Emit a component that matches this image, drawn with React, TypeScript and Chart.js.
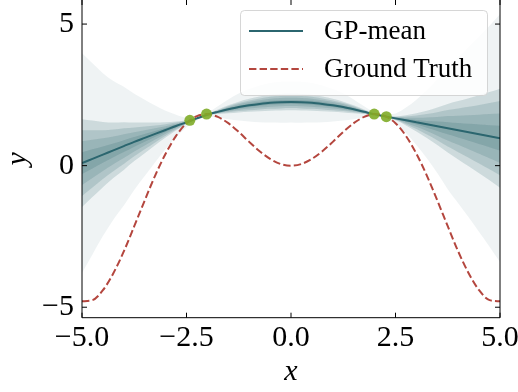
import React, { useEffect, useRef } from 'react';
import { Chart, registerables } from 'chart.js';

Chart.register(...registerables);

const xGrid = [-5, -4.75, -4.5, -4.25, -4, -3.75, -3.5, -3.25, -3, -2.75, -2.5, -2.25, -2, -1.75, -1.5, -1.25, -1, -0.75, -0.5, -0.25, 0, 0.25, 0.5, 0.75, 1, 1.25, 1.5, 1.75, 2, 2.25, 2.5, 2.75, 3, 3.25, 3.5, 3.75, 4, 4.25, 4.5, 4.75, 5];
const gpMean = [0.09, 0.24, 0.39, 0.54, 0.69, 0.84, 0.98, 1.12, 1.26, 1.4, 1.53, 1.67, 1.8, 1.9, 1.99, 2.07, 2.13, 2.18, 2.22, 2.24, 2.25, 2.24, 2.22, 2.18, 2.13, 2.07, 1.99, 1.9, 1.81, 1.74, 1.67, 1.6, 1.53, 1.46, 1.39, 1.32, 1.25, 1.18, 1.11, 1.04, 0.97];
const gpStd = [1.55, 1.35, 1.15, 0.98, 0.84, 0.68, 0.54, 0.4, 0.27, 0.16, 0.07, 0.03, 0.03, 0.08, 0.14, 0.19, 0.23, 0.26, 0.28, 0.29, 0.29, 0.29, 0.28, 0.26, 0.23, 0.19, 0.14, 0.08, 0.03, 0.03, 0.07, 0.18, 0.32, 0.48, 0.66, 0.86, 1.03, 1.2, 1.38, 1.56, 1.75];
const truthY = [-4.79, -4.75, -4.4, -3.8, -3.03, -2.14, -1.23, -0.35, 0.42, 1.05, 1.5, 1.75, 1.82, 1.72, 1.5, 1.19, 0.84, 0.51, 0.24, 0.06, 0, 0.06, 0.24, 0.51, 0.84, 1.19, 1.5, 1.72, 1.82, 1.75, 1.5, 1.05, 0.42, -0.35, -1.23, -2.14, -3.03, -3.8, -4.4, -4.75, -4.79];
const trainX = [-2.42, -2.02, 1.99, 2.28];
const trainY = [1.6, 1.82, 1.82, 1.73];
const bandLevels = [2.5, 1, 0.75, 0.5, 0.25];
const xTicks = [-5, -2.5, 0, 2.5, 5];
const xTickLabels = ['\u22125.0', '\u22122.5', '0.0', '2.5', '5.0'];
const yTicks = [-5, 0, 5];
const yTickLabels = ['\u22125', '0', '5'];
const legendLabels = ['GP-mean', 'Ground Truth'];
const xRange = [-5, 5];
const yRange = [-5.37, 5.85];

const SERIF = "'Liberation Serif', 'Times New Roman', serif";
const MEAN_COLOR = '#2b666f';
const TRUTH_COLOR = '#b4463e';
const DASH = [7.4, 3.2];

const decorPlugin = {
  id: 'decor',
  afterDraw(chart: any) {
    const { ctx, chartArea: ca, scales } = chart;
    const xs = scales.x;
    const ys = scales.y;
    ctx.save();
    ctx.strokeStyle = '#000';
    ctx.lineWidth = 1;
    ctx.setLineDash([]);
    ctx.beginPath();
    ctx.moveTo(ca.left, ca.top);
    ctx.lineTo(ca.left, ca.bottom);
    ctx.lineTo(ca.right, ca.bottom);
    ctx.lineTo(ca.right, ca.top);
    ctx.stroke();
    const tl = 5;
    ctx.beginPath();
    xTicks.forEach((v) => {
      const p = xs.getPixelForValue(v);
      ctx.moveTo(p, ca.bottom);
      ctx.lineTo(p, ca.bottom - tl);
      ctx.moveTo(p, ca.top);
      ctx.lineTo(p, ca.top + tl);
    });
    yTicks.forEach((v) => {
      const p = ys.getPixelForValue(v);
      ctx.moveTo(ca.left, p);
      ctx.lineTo(ca.left + tl, p);
      ctx.moveTo(ca.right, p);
      ctx.lineTo(ca.right - tl, p);
    });
    ctx.stroke();

    // legend
    const lw = 247;
    const lh = 85;
    const lx = ca.right - 13 - lw;
    const ly = ca.top + 10;
    ctx.beginPath();
    if (ctx.roundRect) ctx.roundRect(lx + 0.5, ly + 0.5, lw, lh, 4);
    else ctx.rect(lx + 0.5, ly + 0.5, lw, lh);
    ctx.fillStyle = 'rgba(255,255,255,0.8)';
    ctx.fill();
    ctx.strokeStyle = 'rgba(204,204,204,0.8)';
    ctx.lineWidth = 1;
    ctx.stroke();

    const rows = [
      { y: ly + 21, color: MEAN_COLOR, dash: [] as number[] },
      { y: ly + 59, color: TRUTH_COLOR, dash: DASH },
    ];
    rows.forEach((r, i) => {
      ctx.beginPath();
      ctx.strokeStyle = r.color;
      ctx.lineWidth = 2;
      ctx.setLineDash(r.dash);
      ctx.moveTo(lx + 9, r.y);
      ctx.lineTo(lx + 63, r.y);
      ctx.stroke();
      ctx.setLineDash([]);
      ctx.fillStyle = '#000';
      ctx.font = `27px ${SERIF}`;
      ctx.textAlign = 'left';
      ctx.textBaseline = 'middle';
      ctx.fillText(legendLabels[i], lx + 84, r.y + 1);
    });
    ctx.restore();
  },
};

export default function App() {
  const ref = useRef<HTMLCanvasElement | null>(null);

  useEffect(() => {
    if (!ref.current) return;
    const pts = (ys: number[]) => xGrid.map((x, i) => ({ x, y: ys[i] }));
    const bandColors = [
      'rgba(35,92,102,0.07)',
      'rgba(35,92,102,0.17)',
      'rgba(35,92,102,0.17)',
      'rgba(35,92,102,0.17)',
      'rgba(35,92,102,0.17)',
    ];
    const datasets: any[] = [];
    bandLevels.forEach((k, bi) => {
      datasets.push({
        data: pts(gpMean.map((m, i) => m - k * gpStd[i])),
        borderColor: 'rgba(0,0,0,0)',
        borderWidth: 0,
        pointRadius: 0,
        fill: false,
        cubicInterpolationMode: 'monotone',
        order: 10,
      });
      datasets.push({
        data: pts(gpMean.map((m, i) => m + k * gpStd[i])),
        borderColor: 'rgba(0,0,0,0)',
        borderWidth: 0,
        pointRadius: 0,
        fill: '-1',
        backgroundColor: bandColors[bi],
        cubicInterpolationMode: 'monotone',
        order: 10,
      });
    });
    datasets.push({
      data: pts(gpMean),
      borderColor: MEAN_COLOR,
      borderWidth: 2,
      pointRadius: 0,
      fill: false,
      cubicInterpolationMode: 'monotone',
      order: 3,
    });
    datasets.push({
      data: pts(truthY),
      borderColor: TRUTH_COLOR,
      borderWidth: 2,
      borderDash: DASH,
      pointRadius: 0,
      fill: false,
      cubicInterpolationMode: 'monotone',
      order: 2,
    });
    datasets.push({
      data: trainX.map((x, i) => ({ x, y: trainY[i] })),
      showLine: false,
      pointRadius: 5.5,
      pointBackgroundColor: 'rgba(128,172,40,0.9)',
      pointBorderWidth: 0,
      borderColor: 'rgba(0,0,0,0)',
      fill: false,
      order: 1,
    });

    const chart = new Chart(ref.current, {
      type: 'line',
      data: { datasets },
      options: {
        animation: false,
        responsive: false,
        devicePixelRatio: 1,
        layout: { autoPadding: false, padding: { left: 0, right: 18, top: 0, bottom: 0 } },
        plugins: { legend: { display: false }, tooltip: { enabled: false } },
        scales: {
          x: {
            type: 'linear',
            min: xRange[0],
            max: xRange[1],
            grid: { display: false, drawTicks: false },
            border: { display: false },
            afterBuildTicks: (s: any) => {
              s.ticks = xTicks.map((v) => ({ value: v }));
            },
            afterFit: (s: any) => {
              s.height = 74.3;
              s.paddingLeft = 0;
              s.paddingRight = 0;
            },
            ticks: {
              autoSkip: false,
              maxRotation: 0,
              minRotation: 0,
              padding: 2,
              color: '#000',
              font: { family: SERIF, size: 30 },
              callback: (_v: any, i: number) => xTickLabels[i],
            },
            title: {
              display: true,
              text: 'x',
              color: '#000',
              font: { family: SERIF, size: 30, style: 'italic', lineHeight: 1.2 },
              padding: { top: 0, bottom: 2 },
            },
          },
          y: {
            type: 'linear',
            min: yRange[0],
            max: yRange[1],
            grid: { display: false, drawTicks: false },
            border: { display: false },
            afterBuildTicks: (s: any) => {
              s.ticks = yTicks.map((v) => ({ value: v }));
            },
            afterFit: (s: any) => {
              s.width = 82;
              s.paddingTop = 0;
              s.paddingBottom = 0;
            },
            ticks: {
              autoSkip: false,
              padding: 8,
              color: '#000',
              font: { family: SERIF, size: 30 },
              callback: (_v: any, i: number) => yTickLabels[i],
            },
            title: {
              display: true,
              text: 'y',
              color: '#000',
              font: { family: SERIF, size: 30, style: 'italic', lineHeight: 1 },
              padding: { top: 3, bottom: 0 },
            },
          },
        },
      },
      plugins: [decorPlugin],
    });
    return () => chart.destroy();
  }, []);

  return (
    <div style={{ position: 'fixed', left: 0, top: 0, width: 518, height: 392, background: '#fff' }}>
      <canvas ref={ref} width={518} height={392} style={{ width: 518, height: 392, display: 'block' }} />
    </div>
  );
}
